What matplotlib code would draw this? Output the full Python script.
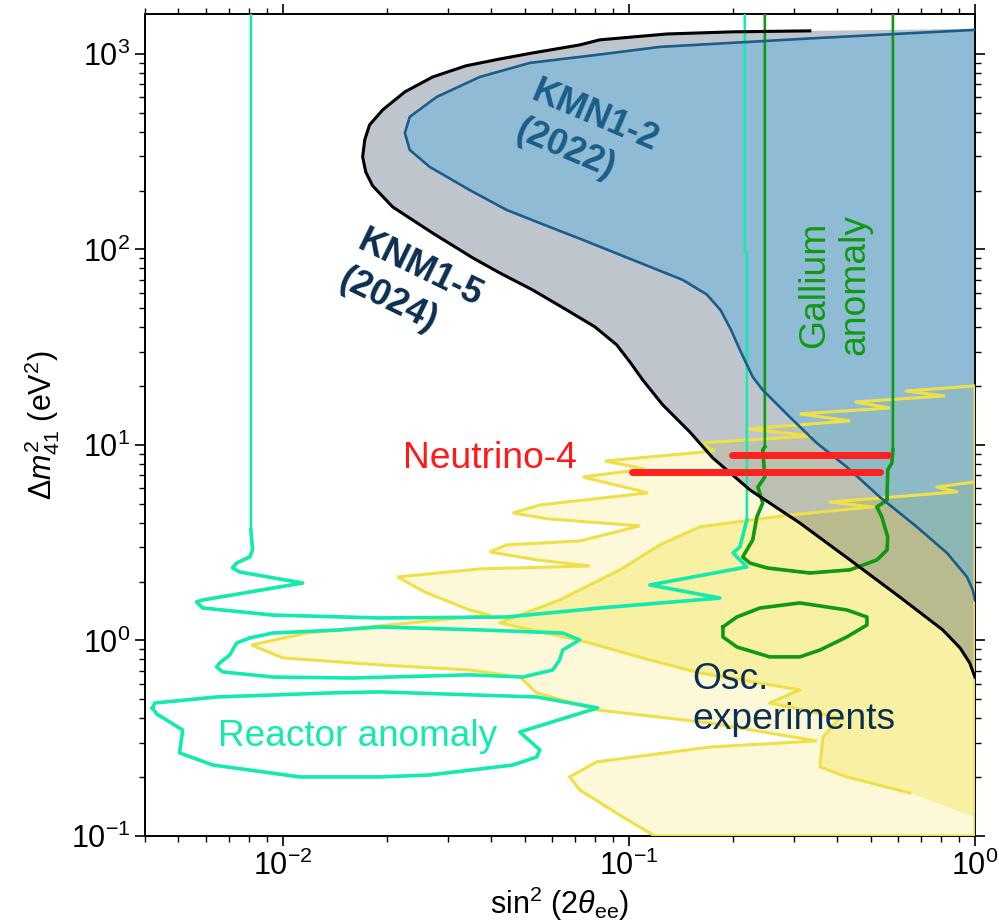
import numpy as np
import matplotlib.pyplot as plt

plt.rcParams['font.family'] = ['Liberation Sans', 'DejaVu Sans']
plt.rcParams['mathtext.fontset'] = 'custom'
plt.rcParams['mathtext.rm'] = 'Liberation Sans'
plt.rcParams['mathtext.it'] = 'Liberation Sans:italic'
plt.rcParams['mathtext.bf'] = 'Liberation Sans:bold'

# all contours given as log10(sin^2 2theta), log10(dm^2 / eV^2)
### KATRIN KNM1-5 (2024) exclusion contour
knm15_lx = [-0.477, -0.699, -0.890, -1.084, -1.142, -1.278, -1.373, -1.471, -1.567, -1.647,
            -1.711, -1.749, -1.763, -1.769, -1.760, -1.740, -1.682, -1.567, -1.451, -1.373,
            -1.278, -1.179, -1.098, -1.035, -0.997, -0.960, -0.902, -0.824, -0.757, -0.650,
            -0.506, -0.361, -0.217, -0.093, -0.043, -0.015, 0.000]
knm15_ly = [3.118, 3.113, 3.102, 3.072, 3.046, 3.005, 2.974, 2.939, 2.882, 2.806,
            2.714, 2.637, 2.560, 2.473, 2.396, 2.325, 2.217, 2.084, 1.957, 1.880,
            1.793, 1.690, 1.604, 1.512, 1.425, 1.333, 1.205, 1.067, 0.933, 0.770,
            0.601, 0.412, 0.222, 0.054, -0.038, -0.115, -0.187]

### KATRIN KNM1-2 (2022)
knm12_lx = [0.000, -0.448, -0.910, -1.093, -1.286, -1.431, -1.555, -1.633, -1.647, -1.633,
            -1.575, -1.460, -1.353, -1.243, -1.133, -0.988, -0.844, -0.775, -0.735, -0.705,
            -0.679, -0.642, -0.613, -0.535, -0.457, -0.370, -0.275, -0.168, -0.081, -0.023,
            -0.006, 0.000]
knm12_ly = [3.123, 3.082, 3.036, 2.995, 2.954, 2.882, 2.780, 2.678, 2.596, 2.509,
            2.422, 2.304, 2.202, 2.125, 2.049, 1.946, 1.844, 1.770, 1.690, 1.590,
            1.486, 1.348, 1.281, 1.143, 1.010, 0.887, 0.734, 0.581, 0.448, 0.325,
            0.258, 0.207]

### oscillation experiments, outer (light) and inner (dark) regions
osc_out_lx = [0.000, -0.202, -0.087, -0.347, -0.246, -0.506, -0.361, -0.656, -0.471, -0.795,
              -0.752, -1.069, -0.954, -1.133, -0.945, -1.257, -1.335, -1.234, -0.968, -1.142,
              -1.353, -1.402, -1.266, -1.113, -1.431, -1.668, -1.590, -1.460, -1.402, -1.931,
              -2.090, -2.000, -1.720, -1.460, -1.315, -1.266, -1.093, -0.766, -0.457, -0.766,
              -1.093, -1.171, -1.142, -1.017, -0.925, 0.000]
osc_out_ly = [1.302, 1.276, 1.251, 1.220, 1.189, 1.159, 1.123, 1.082, 1.046, 1.010,
              0.969, 0.918, 0.877, 0.836, 0.755, 0.693, 0.652, 0.622, 0.586, 0.509,
              0.489, 0.453, 0.412, 0.381, 0.366, 0.325, 0.248, 0.156, 0.130, 0.038,
              -0.023, -0.089, -0.125, -0.151, -0.187, -0.268, -0.355, -0.422, -0.514, -0.545,
              -0.621, -0.698, -0.765, -0.903, -1.000, -1.000]
osc_in_lx = [0.000, -0.110, -0.052, -0.419, -0.295, -0.535, -0.795, -0.910, -1.026, -1.200,
             -1.373, -1.133, -0.939, -0.795, -0.506, -0.593, -0.390, -0.439, -0.448, -0.370,
             -0.188, 0.000]
osc_in_ly = [0.811, 0.785, 0.760, 0.708, 0.683, 0.642, 0.581, 0.489, 0.361, 0.207,
             0.090, -0.003, -0.100, -0.166, -0.253, -0.320, -0.396, -0.494, -0.647, -0.698,
             -0.780, -0.903]

### reactor anomaly
rea1_lx = [-2.092, -2.092, -2.087, -2.095, -2.133, -2.145, -2.124, -1.942, -2.231, -2.249,
           -2.231, -2.029, -1.720, -1.353, -1.084, -0.737, -0.939, -0.659, -0.699, -0.679,
           -0.659, -0.659, -0.665, -0.665]
rea1_ly = [3.3, 0.565, 0.463, 0.427, 0.396, 0.371, 0.350, 0.294, 0.207, 0.197,
           0.166, 0.130, 0.115, 0.120, 0.166, 0.217, 0.284, 0.376, 0.448, 0.478,
           0.616, 1.982, 1.997, 3.3]
rea2_lx = [-2.095, -2.133, -2.153, -2.182, -2.191, -2.173, -2.029, -1.798, -1.460, -1.306,
           -1.220, -1.200, -1.191, -1.142, -1.191, -1.431, -1.720, -1.835, -2.029, -2.095]
rea2_ly = [0.013, -0.013, -0.074, -0.115, -0.136, -0.161, -0.187, -0.192, -0.176, -0.187,
           -0.151, -0.100, -0.049, 0.003, 0.038, 0.054, 0.069, 0.054, 0.038, 0.013]
rea3_lx = [-2.376, -2.364, -2.289, -2.298, -2.202, -1.951, -1.720, -1.575, -1.335, -1.266,
           -1.257, -1.315, -1.090, -1.266, -1.720, -1.855, -2.191, -2.370, -2.376]
rea3_ly = [-0.345, -0.376, -0.458, -0.575, -0.637, -0.698, -0.698, -0.688, -0.637, -0.596,
           -0.560, -0.468, -0.345, -0.289, -0.263, -0.268, -0.289, -0.320, -0.345]

### gallium anomaly
gal1_lx = [-0.607, -0.607, -0.613, -0.607, -0.627, -0.613, -0.630, -0.642, -0.659, -0.671,
           -0.650, -0.601, -0.477, -0.361, -0.283, -0.254, -0.252, -0.269, -0.283, -0.254,
           -0.252, -0.240, -0.237, -0.237]
gal1_ly = [3.3, 0.990, 0.974, 0.836, 0.785, 0.703, 0.632, 0.514, 0.463, 0.427,
           0.396, 0.371, 0.345, 0.361, 0.412, 0.463, 0.529, 0.632, 0.683, 0.719,
           0.872, 0.908, 0.974, 3.3]
gal2_lx = [-0.728, -0.688, -0.621, -0.506, -0.370, -0.312, -0.312, -0.370, -0.448, -0.506,
           -0.593, -0.688, -0.728, -0.728]
gal2_ly = [0.069, 0.120, 0.166, 0.192, 0.156, 0.120, 0.079, 0.018, -0.049, -0.084,
           -0.084, -0.033, 0.018, 0.069]

### Neutrino-4 best fit
n4_x0 = [0.199, 0.102]
n4_x1 = [0.560, 0.531]
n4_y = [8.89, 7.28]

c_line_blue = '#1b5d8a'
c_navy = '#0b2f52'
c_yel_edge = '#efe04a'
c_teal = '#14eaae'
c_green = '#0f9a12'


def xy(lx, ly):
    return 10**np.array(lx), 10**np.array(ly)


fig = plt.figure(figsize=(9.99, 9.22), dpi=100)
ax = fig.add_axes([0.1451, 0.0933, 0.8308, 0.8915])

# osc. experiments
x, y = xy(osc_out_lx, osc_out_ly)
ax.fill(x, y, facecolor='#fcf8d8', edgecolor='none', zorder=1)
ax.fill(x, y, facecolor='none', edgecolor=c_yel_edge, lw=2.2, zorder=3)
x, y = xy(osc_in_lx, osc_in_ly)
ax.fill(x, y, facecolor='#f8f0a2', edgecolor='none', zorder=1.1)
ax.plot(x[:-1], y[:-1], color=c_yel_edge, lw=2.2, zorder=3)

# KATRIN (semi-transparent so the yellow shows through)
x, y = xy([0.0] + knm15_lx, [3.128] + knm15_ly)
ax.fill(x, y, facecolor='#455a6d', alpha=0.35, edgecolor='none', zorder=2)
x, y = xy(knm15_lx, knm15_ly)
ax.plot(x, y, color='black', lw=2.2, zorder=5)
x, y = xy(knm12_lx, knm12_ly)
ax.fill(x, y, facecolor='#56b1e2', alpha=0.45, edgecolor='none', zorder=2.1)
ax.plot(x, y, color=c_line_blue, lw=1.9, zorder=5)

# reactor anomaly (thin vertical parts, thicker islands)
x, y = xy(rea1_lx, rea1_ly)
ax.plot(x, y, color=c_teal, lw=1.8, zorder=4)
ax.plot(x[1:-3], y[1:-3], color=c_teal, lw=2.6, zorder=4)
for lx, ly in [(rea2_lx, rea2_ly), (rea3_lx, rea3_ly)]:
    x, y = xy(lx, ly)
    ax.plot(x, y, color=c_teal, lw=2.6, zorder=4)

# gallium anomaly
x, y = xy(gal1_lx, gal1_ly)
ax.plot(x, y, color=c_green, lw=1.9, zorder=4)
ax.plot(x[1:-1], y[1:-1], color=c_green, lw=2.6, zorder=4)
x, y = xy(gal2_lx, gal2_ly)
ax.plot(x, y, color=c_green, lw=2.6, zorder=4)

# Neutrino-4
for i in range(len(n4_y)):
    ax.plot([n4_x0[i], n4_x1[i]], [n4_y[i], n4_y[i]], color='#ff2020', lw=5,
            solid_capstyle='round', zorder=6)

ax.text(0.0234, 63.5, "KNM1-5\n(2024)", rotation=-26, ha='center', va='center',
        multialignment='left', fontsize=26, fontweight='bold', color=c_navy,
        linespacing=1.25, zorder=7)
ax.text(0.0757, 381, "KMN1-2\n(2022)", rotation=-23, ha='center', va='center',
        multialignment='left', fontsize=26, fontweight='bold', color=c_line_blue,
        linespacing=1.25, zorder=7)
ax.text(0.0222, 7.62, "Neutrino-4", color='#ff1a1a', fontsize=26.8, ha='left',
        va='baseline', zorder=7)
ax.text(0.00649, 0.288, "Reactor anomaly", color=c_teal, fontsize=26.6, ha='left',
        va='baseline', zorder=7)
ax.text(0.394, 65.8, "Gallium\nanomaly", color=c_green, fontsize=26.8, rotation=90,
        ha='center', va='center', multialignment='center', linespacing=1.2, zorder=7)
ax.text(0.153, 0.352, "Osc.\nexperiments", color=c_navy, fontsize=26.8, ha='left',
        va='baseline', linespacing=1.2, zorder=7)

ax.set_xscale('log')
ax.set_yscale('log')
ax.set_xlim(0.004, 1)
ax.set_ylim(0.1, 1600)

ax.set_xlabel(r'$\sin^2\,(2\theta_{\rm ee})$', fontsize=22, labelpad=2)
ax.set_ylabel(r'$\Delta m^2_{41}$ (eV$^2$)', fontsize=22, labelpad=6)
ax.tick_params(which='both', direction='out', top=True, right=True, labelsize=22)
ax.tick_params(which='major', length=7, width=1.2)
ax.tick_params(which='minor', length=4.3, width=1.0)
for s in ax.spines.values():
    s.set_linewidth(1.4)

plt.savefig("out.png", dpi=100)
